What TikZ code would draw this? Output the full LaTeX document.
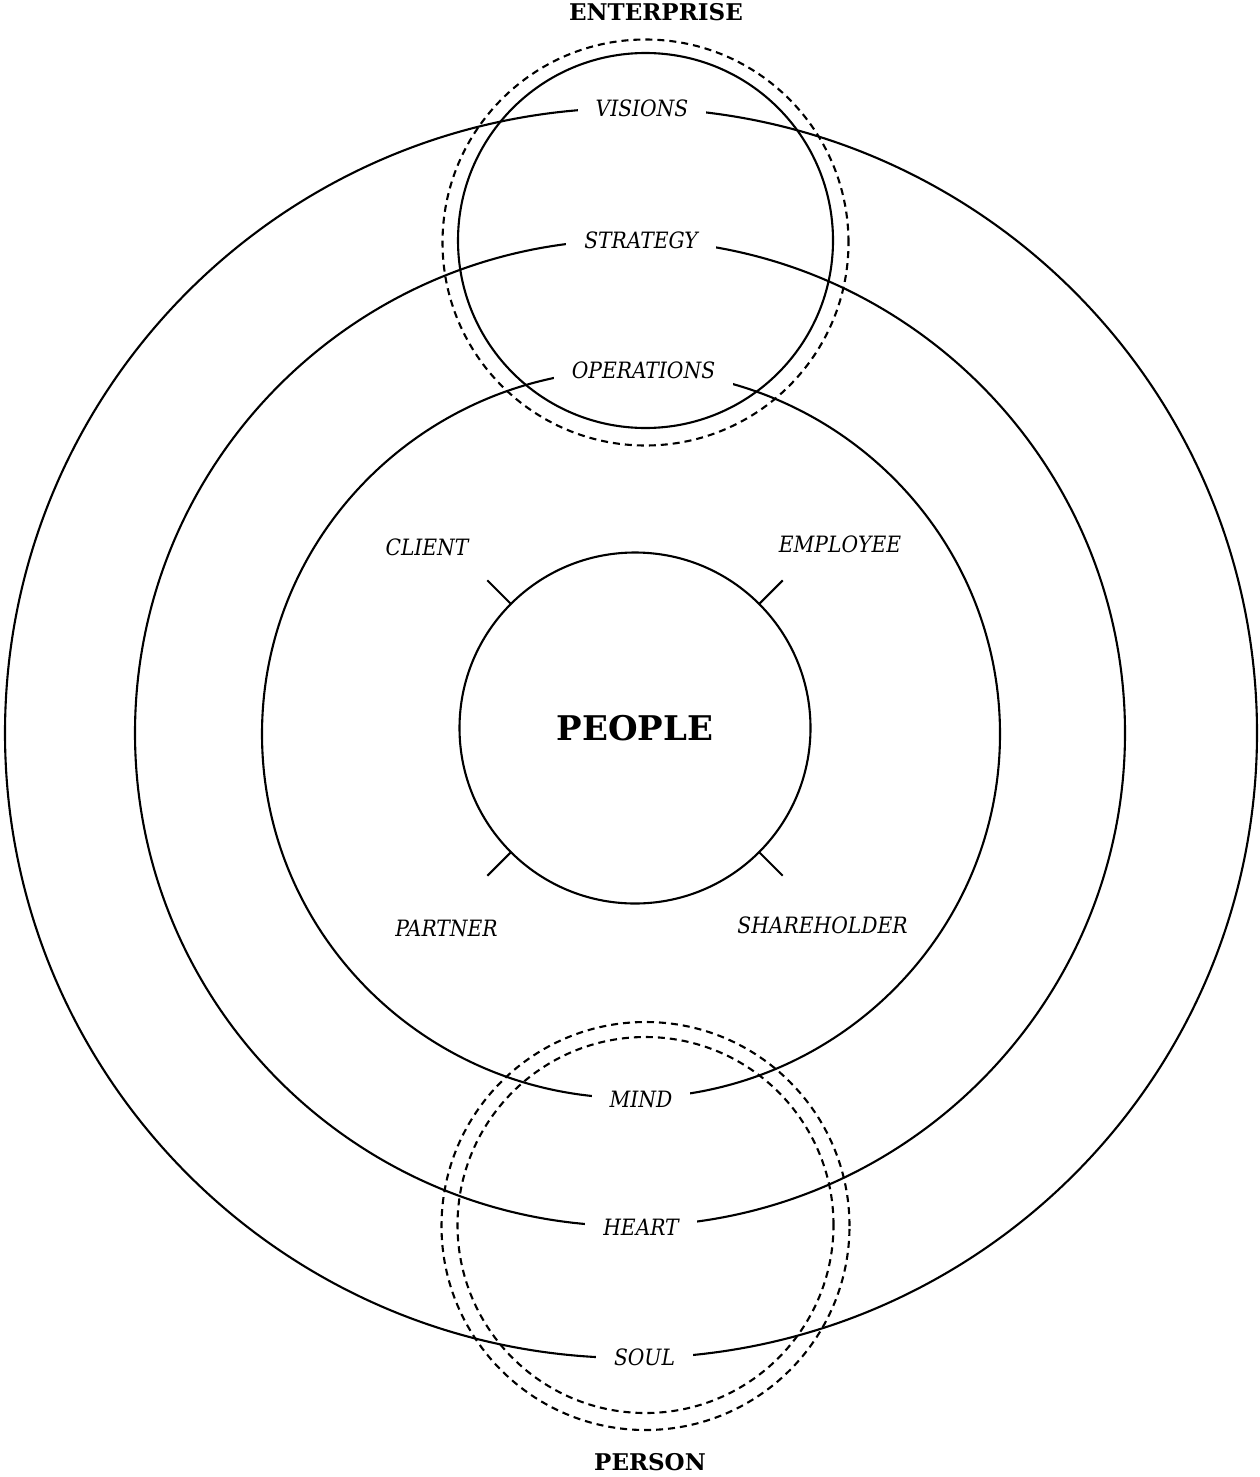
\documentclass[tikz,border=0pt]{standalone}
\usepackage{fontspec}
\setmainfont{DejaVu Serif}
\newfontfamily\labfont{DejaVu Serif Condensed}
\usetikzlibrary{calc}
\begin{document}
\begin{tikzpicture}[x=1pt,y=-1pt,
  ring/.style={line width=2.1pt},
  dashring/.style={line width=2.1pt, dash pattern=on 7pt off 5pt},
  lab/.style={fill=white, inner xsep=18pt, inner ysep=9pt, font=\labfont\fontsize{22.5}{22.5}\selectfont\itshape},
  plain/.style={inner sep=0pt, font=\labfont\fontsize{22.5}{22.5}\selectfont\itshape},
  title/.style={inner sep=0pt, font=\fontsize{23}{23}\selectfont\bfseries},
  tickline/.style={line width=2.1pt}]
\useasboundingbox (0,0) rectangle (1259,1477);

% concentric rings
\draw[ring] (631,733) ellipse [x radius=626pt, y radius=625pt];
\draw[ring] (630,733) ellipse [x radius=495pt, y radius=493pt];
\draw[ring] (631,734) ellipse [x radius=369pt, y radius=364pt];

% enterprise circles
\draw[ring] (645.5,240.5) circle [radius=187.5pt];
\draw[dashring] (645.5,242.5) circle [radius=203pt];

% person circles
\draw[dashring] (645.5,1225) circle [radius=188pt];
\draw[dashring] (645.5,1226) circle [radius=204pt];

% people
\node[draw, circle, ring, minimum size=351pt, inner sep=0pt, outer sep=0pt,
      font=\fontsize{34}{34}\selectfont\bfseries] (people) at (635,728) {PEOPLE};
\foreach \a/\n in {135/tl,45/tr,225/bl,315/br}{
  \coordinate (tick\n) at ($(people.center)!1.19!(people.\a)$);
  \draw[tickline] (people.\a) -- (tick\n);
}

% ring labels
\node[lab] (visions) at (642,108) {VISIONS};
\node[lab] (strategy) at (641,240) {STRATEGY};
\node[lab] (operations) at (643.5,370) {OPERATIONS};
\node[lab] (mind) at (641,1099) {MIND};
\node[lab] (heart) at (641,1227) {HEART};
\node[lab] (soul) at (644.5,1357) {SOUL};

% people labels
\node[plain] (client) at (427,547) {CLIENT};
\node[plain] (employee) at (840,544) {EMPLOYEE};
\node[plain] (partner) at (446.5,928) {PARTNER};
\node[plain] (shareholder) at (822.5,925) {SHAREHOLDER};

% titles
\node[title] (enterprise) at (656,12) {ENTERPRISE};
\node[title] (person) at (650,1462) {PERSON};
\end{tikzpicture}
\end{document}
